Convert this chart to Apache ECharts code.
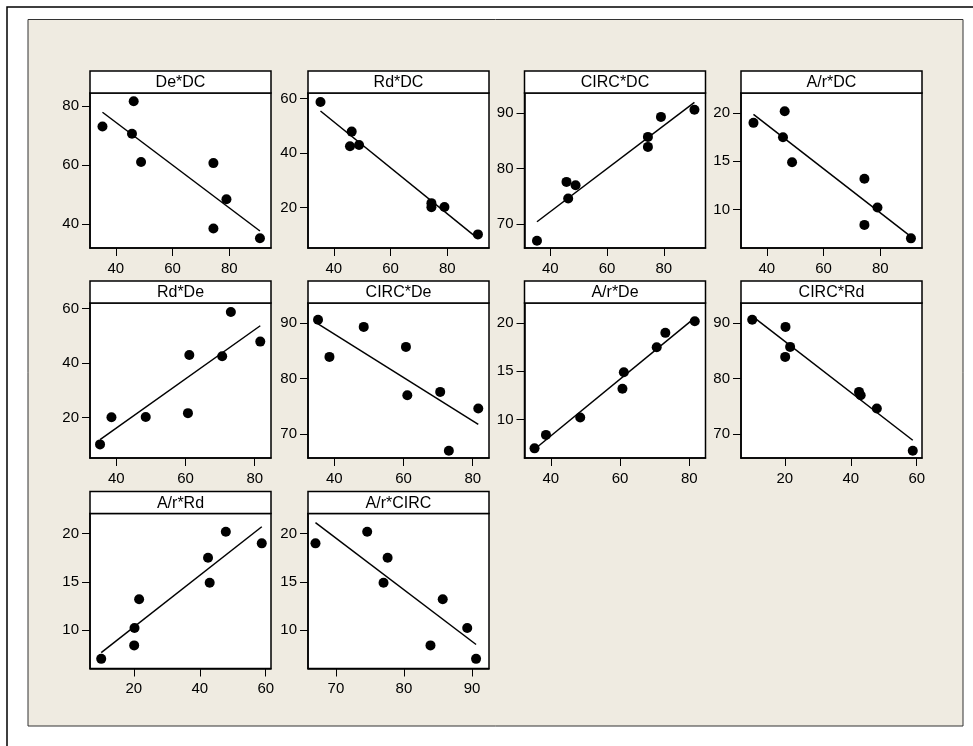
<!DOCTYPE html>
<html>
<head>
<meta charset="utf-8">
<script src="https://cdn.jsdelivr.net/npm/echarts@6/dist/echarts.min.js"></script>
<style>
html,body{margin:0;padding:0;background:#fff;}
#c{width:973px;height:746px;}
</style>
</head>
<body>
<div id="c"></div>
<script>
// Observations (8 samples)
const DC   = [35.3, 46.3, 45.7, 48.9, 74.4, 79.0, 74.4, 90.8];
const De   = [73.1, 81.6, 70.6, 61.1, 60.7, 48.5, 38.6, 35.3];
const Rd   = [58.8, 47.9, 42.5, 43.0, 21.6, 20.2, 20.1, 10.1];
const CIRC = [67.0, 74.6, 77.6, 77.0, 85.7, 89.3, 83.9, 90.6];
const Ar   = [19.0, 20.2, 17.5, 14.9, 13.2, 10.2,  8.4,  7.0];

const variables = {DC: DC, De: De, Rd: Rd, CIRC: CIRC, 'A/r': Ar};

// panels: [x variable, y variable]
const panels = [
  ['DC','De'], ['DC','Rd'], ['DC','CIRC'], ['DC','A/r'],
  ['De','Rd'], ['De','CIRC'], ['De','A/r'], ['Rd','CIRC'],
  ['Rd','A/r'], ['CIRC','A/r']
];

// tick labels per variable
const ticks = {
  DC: [40, 60, 80],
  De: [40, 60, 80],
  Rd: [20, 40, 60],
  CIRC: [70, 80, 90],
  'A/r': [10, 15, 20]
};

// axis extents
const xRange = {DC:[30.9,94.7], De:[32.4,84.7], Rd:[6.7,61.6], CIRC:[65.9,92.5]};
const yRange = {De:[32.0,84.4], Rd:[5.1,62.1], CIRC:[65.7,93.6], 'A/r':[6.0,22.1]};

// layout
const colLeft = [90, 308, 524.5, 741];
const rowTop = [71, 281, 491.5];
const PW = 181, TH = 22, PH = 155;
const FONT = '"Liberation Sans", Arial, sans-serif';

function fit(xs, ys){
  const n = xs.length;
  let mx=0,my=0; for(let i=0;i<n;i++){mx+=xs[i];my+=ys[i];} mx/=n; my/=n;
  let sxy=0,sxx=0; for(let i=0;i<n;i++){sxy+=(xs[i]-mx)*(ys[i]-my); sxx+=(xs[i]-mx)*(xs[i]-mx);}
  const b = sxy/sxx, a = my-b*mx;
  const x0 = Math.min(...xs), x1 = Math.max(...xs);
  return [[x0, a+b*x0],[x1, a+b*x1]];
}

const grids=[], xAxes=[], yAxes=[], series=[], graphics=[];

// page frame + beige background
graphics.push({type:'rect', z:-100, shape:{x:28, y:19.5, width:935, height:706.5},
  style:{fill:'#EFEBE1', stroke:'#333', lineWidth:1}});
graphics.push({type:'polyline', z:-100, shape:{points:[[973,7],[7,7],[7,746]]},
  style:{stroke:'#000', lineWidth:1.5, fill:null}});

panels.forEach((p, i) => {
  const col = i % 4, row = Math.floor(i / 4);
  const left = colLeft[col], top = rowTop[row] + TH;
  const xs = variables[p[0]], ys = variables[p[1]];
  grids.push({left:left, top:top, width:PW, height:PH, show:true,
    backgroundColor:'#fff', borderColor:'#000', borderWidth:1.5, containLabel:false});
  xAxes.push({type:'value', gridIndex:i, min:xRange[p[0]][0], max:xRange[p[0]][1],
    axisLine:{show:true, onZero:false, lineStyle:{color:'#000', width:1.5}},
    axisTick:{show:true, length:8, lineStyle:{color:'#000', width:1}, customValues:ticks[p[0]]},
    axisLabel:{color:'#000', fontSize:15, fontFamily:FONT, margin:13, customValues:ticks[p[0]]},
    splitLine:{show:false}});
  yAxes.push({type:'value', gridIndex:i, min:yRange[p[1]][0], max:yRange[p[1]][1],
    axisLine:{show:true, onZero:false, lineStyle:{color:'#000', width:1.5}},
    axisTick:{show:true, length:8, lineStyle:{color:'#000', width:1}, customValues:ticks[p[1]]},
    axisLabel:{color:'#000', fontSize:15, fontFamily:FONT, margin:11, customValues:ticks[p[1]]},
    splitLine:{show:false}});
  series.push({type:'scatter', xAxisIndex:i, yAxisIndex:i, symbol:'circle', symbolSize:10,
    itemStyle:{color:'#000', opacity:1}, data: xs.map((v,k)=>[v, ys[k]]), z:3});
  series.push({type:'line', xAxisIndex:i, yAxisIndex:i, data: fit(xs, ys), symbol:'none',
    lineStyle:{color:'#000', width:1.5}, z:2, silent:true});
  graphics.push({type:'rect', z:50, shape:{x:left, y:rowTop[row], width:PW, height:TH},
    style:{fill:'#fff', stroke:'#000', lineWidth:1.5}});
  graphics.push({type:'text', z:51, x:left+PW/2, y:rowTop[row]+TH/2+1,
    style:{text:p[1]+'*'+p[0], fill:'#000', font:'16px '+FONT, align:'center', verticalAlign:'middle'}});
});

const chart = echarts.init(document.getElementById('c'), null, {renderer:'canvas'});
chart.setOption({
  backgroundColor:'#fff',
  animation:false,
  grid:grids, xAxis:xAxes, yAxis:yAxes, series:series,
  graphic:{elements:graphics}
});
</script>
</body>
</html>
